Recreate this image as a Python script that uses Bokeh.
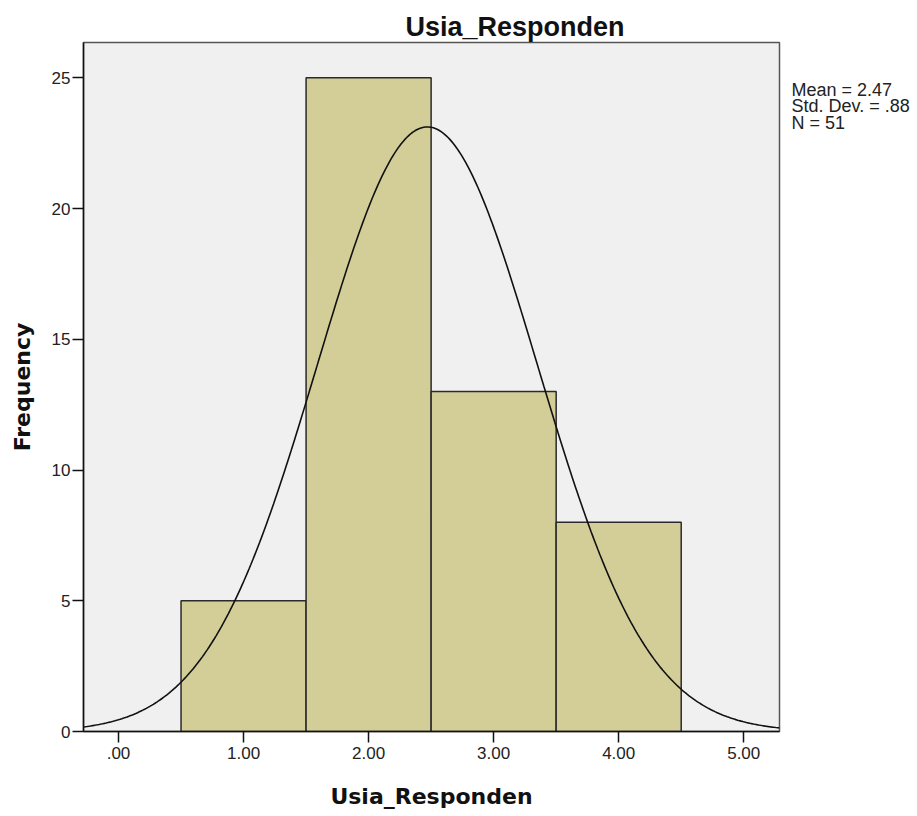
import numpy as np
from bokeh.plotting import figure
from bokeh.layouts import row
from bokeh.models import Range1d, FixedTicker, ColumnDataSource
from bokeh.core.properties import value
from bokeh.embed import file_html
from bokeh.resources import INLINE

# ---- data ----
bin_left = [0.5, 1.5, 2.5, 3.5]
bin_right = [1.5, 2.5, 3.5, 4.5]
counts = [5, 25, 13, 8]
x_ticks = [0, 1, 2, 3, 4, 5]
x_tick_labels = [".00", "1.00", "2.00", "3.00", "4.00", "5.00"]
y_ticks = [0, 5, 10, 15, 20, 25]
stat_mean = 2.47
stat_sd = 0.88
stat_n = 51
bin_width = 1.0
stats_lines = ["Mean = 2.47", "Std. Dev. = .88", "N = 51"]
title_text = "Usia_Responden"
x_label = "Usia_Responden"
y_label = "Frequency"

X0, X1 = -0.28, 5.286
Y0, Y1 = 0, 26.35
BL, BR, BT, BB = 83, 6, 42, 82
FW, FH = 696, 689
W = BL + FW + BR
H = BT + FH + BB

p = figure(width=W, height=H, output_backend="svg", toolbar_location=None,
           x_range=Range1d(X0, X1), y_range=Range1d(Y0, Y1),
           min_border_left=BL, min_border_right=BR, min_border_top=BT, min_border_bottom=BB)

p.background_fill_color = "#F0F0F0"
p.border_fill_color = "white"
p.outline_line_color = "#555555"
p.outline_line_width = 1.5
p.xgrid.visible = False
p.ygrid.visible = False

# title in the above panel
p.title.text = title_text
p.title.text_font = "Liberation Sans"
p.title.text_font_style = "bold"
p.title.text_font_size = "27px"
p.title.text_color = "#111111"
p.title.align = "left"
p.title.offset = 322
p.title.standoff = 2

# bars
p.quad(left=bin_left, right=bin_right, bottom=0, top=counts,
       fill_color="#D3CE98", line_color="#2A2A2A", line_width=1.5)

# normal curve fitted from stated mean / sd / N
xs = np.linspace(X0, X1, 400)
ys = stat_n * bin_width / (stat_sd * np.sqrt(2 * np.pi)) * np.exp(-(xs - stat_mean) ** 2 / (2 * stat_sd ** 2))
p.line(xs, ys, line_color="#111111", line_width=1.6)

# axes
for ax in (p.xaxis, p.yaxis):
    ax.axis_line_color = "#111111"
    ax.axis_line_width = 1.5
    ax.major_tick_line_color = "#111111"
    ax.major_tick_line_width = 1.5
    ax.major_tick_out = 11
    ax.major_tick_in = 0
    ax.minor_tick_line_color = None
    ax.major_label_text_font = "Liberation Sans"
    ax.major_label_text_font_size = "17px"
    ax.major_label_text_color = "#222222"
    ax.axis_label_text_font = "DejaVu Sans"
    ax.axis_label_text_font_style = "bold"
    ax.axis_label_text_font_size = "22px"
    ax.axis_label_text_color = "#111111"

p.xaxis.ticker = FixedTicker(ticks=x_ticks)
p.xaxis.major_label_overrides = {t: lab for t, lab in zip(x_ticks, x_tick_labels)}
p.xaxis.major_label_standoff = 4
p.xaxis.axis_label = x_label
p.xaxis.axis_label_standoff = 22

p.yaxis.ticker = FixedTicker(ticks=y_ticks)
p.yaxis.major_label_standoff = 2
p.yaxis.axis_label = y_label
p.yaxis.axis_label_standoff = 14

# side panel holding the statistics text (same vertical frame as the chart)
SW = 125
s = figure(width=SW, height=H, output_backend="svg", toolbar_location=None,
           x_range=Range1d(0, SW), y_range=Range1d(Y0, Y1),
           x_axis_location=None, y_axis_location=None,
           min_border_left=0, min_border_right=0, min_border_top=BT, min_border_bottom=BB)
s.outline_line_color = None
s.background_fill_color = "white"
s.border_fill_color = "white"
s.xgrid.visible = False
s.ygrid.visible = False
px_y = (Y1 - Y0) / FH
offsets_px = [47.2, 63.8, 80.0]
src = ColumnDataSource(dict(x=[6, 6, 6], y=[Y1 - d * px_y for d in offsets_px], text=stats_lines))
s.text(x="x", y="y", text="text", source=src, text_font=value("Liberation Sans"),
       text_font_size=value("18px"), text_baseline="alphabetic", text_align="left",
       text_color="#222222")

layout = row(p, s)
open("out.html", "w").write(file_html(layout, INLINE))
